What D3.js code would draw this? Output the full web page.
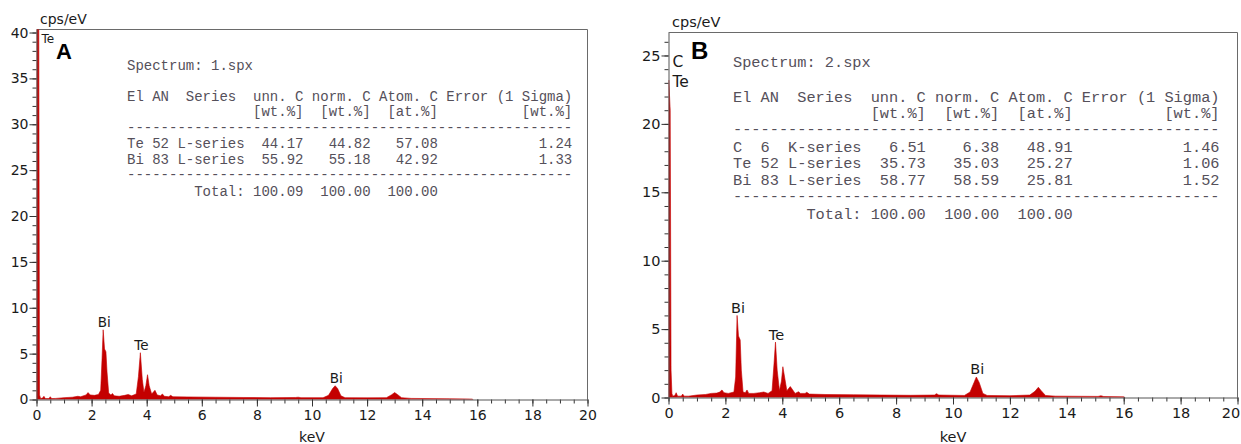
<!DOCTYPE html>
<html>
<head>
<meta charset="utf-8">
<script src="https://cdn.jsdelivr.net/npm/d3@7"></script>
<style>
  body { margin: 0; background: #fff; }
  svg { display: block; }
</style>
</head>
<body>
<svg id="chart" width="1241" height="444"></svg>
<script>
// ---- spectrum 1.spx (panel A) ----
const keVA = [0.00, 0.01, 0.08, 0.11, 0.15, 0.22, 0.27, 0.32, 0.45, 0.50, 0.55, 0.70, 1.00, 1.30, 1.50, 1.60, 1.80, 1.87, 1.95,
  2.10, 2.25, 2.33, 2.38, 2.42, 2.47, 2.52, 2.56, 2.62, 2.70, 2.76, 2.82, 3.00, 3.20, 3.33, 3.45, 3.62, 3.70, 3.77, 3.84,
  3.90, 3.97, 4.03, 4.09, 4.18, 4.30, 4.38, 4.50, 4.57, 4.64, 4.80, 4.87, 4.95, 5.50, 6.50, 7.50, 8.50, 9.40, 9.50, 9.60,
  10.40, 10.60, 10.75, 10.84, 10.93, 11.05, 11.20, 12.00, 12.70, 12.88, 13.00, 13.10, 13.25, 13.60, 15.00, 15.80, 15.85];
const cpsA = [0, 45, 45, 0.5, 0.1, 0.15, 0.35, 0.1, 0.1, 0.3, 0.1, 0.12, 0.2, 0.25, 0.35, 0.3, 0.5, 0.75, 0.5,
  0.45, 0.55, 1.0, 4.5, 7.6, 5.5, 5.2, 3.0, 0.7, 0.5, 0.65, 0.4, 0.35, 0.45, 0.55, 0.4, 0.6, 2.5, 5.1, 2.2,
  0.8, 1.5, 2.7, 1.5, 0.6, 1.0, 0.5, 0.4, 0.6, 0.35, 0.3, 0.45, 0.3, 0.28, 0.25, 0.22, 0.2, 0.22, 0.25, 0.2,
  0.2, 0.45, 1.2, 1.5, 1.2, 0.4, 0.2, 0.18, 0.2, 0.5, 0.75, 0.55, 0.2, 0.12, 0.08, 0.05, 0];
const peakElA = ["Bi", "Te", "Bi"];
const peakKeVA = [2.42, 3.77, 10.84];
const peakCpsA = [7.6, 5.1, 1.5];
const tableA = [
  "Spectrum: 1.spx",
  "El AN  Series  unn. C norm. C Atom. C Error (1 Sigma)",
  "               [wt.%]  [wt.%]  [at.%]          [wt.%]",
  "-----------------------------------------------------",
  "Te 52 L-series  44.17   44.82   57.08            1.24",
  "Bi 83 L-series  55.92   55.18   42.92            1.33",
  "-----------------------------------------------------",
  "        Total: 100.09  100.00  100.00"
];

// ---- spectrum 2.spx (panel B) ----
const keVB = [0.00, 0.01, 0.06, 0.09, 0.12, 0.15, 0.22, 0.27, 0.32, 0.45, 0.50, 0.55, 0.70, 1.00, 1.30, 1.50, 1.70, 1.80, 1.88,
  1.95, 2.10, 2.30, 2.36, 2.41, 2.46, 2.52, 2.56, 2.62, 2.70, 2.76, 2.82, 3.00, 3.20, 3.35, 3.50, 3.64, 3.71, 3.76, 3.82,
  3.90, 3.97, 4.02, 4.08, 4.16, 4.28, 4.35, 4.45, 4.57, 4.64, 4.80, 4.86, 4.95, 5.50, 6.50, 7.50, 8.50, 9.35, 9.42, 9.50,
  10.40, 10.60, 10.74, 10.82, 10.92, 11.05, 11.20, 12.00, 12.70, 12.88, 13.00, 13.10, 13.25, 13.60, 15.10, 15.20, 15.30,
  16.00, 16.05];
const cpsB = [0, 23.2, 21, 2, 0.3, 0.1, 0.15, 0.35, 0.1, 0.1, 0.25, 0.1, 0.1, 0.18, 0.22, 0.3, 0.32, 0.4, 0.55,
  0.35, 0.3, 0.4, 1.5, 6.0, 4.5, 4.2, 2.0, 0.4, 0.35, 0.55, 0.3, 0.3, 0.35, 0.4, 0.3, 0.5, 2.5, 4.05, 2.0,
  0.5, 1.2, 2.25, 1.5, 0.5, 0.8, 0.6, 0.3, 0.42, 0.3, 0.3, 0.38, 0.25, 0.22, 0.2, 0.18, 0.16, 0.18, 0.28, 0.18,
  0.15, 0.4, 1.1, 1.5, 1.1, 0.3, 0.15, 0.13, 0.18, 0.45, 0.75, 0.5, 0.15, 0.1, 0.08, 0.13, 0.07,
  0.05, 0];
const peakElB = ["Bi", "Te", "Bi"];
const peakKeVB = [2.41, 3.76, 10.82];
const peakCpsB = [6.0, 4.05, 1.5];
const tableB = [
  "Spectrum: 2.spx",
  "El AN  Series  unn. C norm. C Atom. C Error (1 Sigma)",
  "               [wt.%]  [wt.%]  [at.%]          [wt.%]",
  "-----------------------------------------------------",
  "C  6  K-series   6.51    6.38   48.91            1.46",
  "Te 52 L-series  35.73   35.03   25.27            1.06",
  "Bi 83 L-series  58.77   58.59   25.81            1.52",
  "-----------------------------------------------------",
  "        Total: 100.00  100.00  100.00"
];

const svg = d3.select("#chart");
const red = "#c40000";

const panels = [
  { id: "A", keV: keVA, cps: cpsA, el: peakElA, pk: peakKeVA, pc: peakCpsA, table: tableA,
    left: 36.5, right: 587.5, top: 29.5, bottom: 399.5, yMax: 40.33, yMaj: 5,
    font: 14, xPad: 4, peakFont: 13.5, tabFont: 14, tabX: 127,
    tabY: [70, 101, 116, 132, 148, 164, 179, 196],
    letter: { t: "A", x: 56, y: 59, size: 22 },
    lowEl: [{ t: "Te", dx: 5, y: 43, size: 12 }] },
  { id: "B", keV: keVB, cps: cpsB, el: peakElB, pk: peakKeVB, pc: peakCpsB, table: tableB,
    left: 668.5, right: 1237.5, top: 32.5, bottom: 397.5, yMax: 26.68, yMaj: 5,
    font: 14.5, xPad: 3, peakFont: 14.5, tabFont: 15.3, tabX: 733,
    tabY: [67, 102, 118, 134, 152, 168, 185, 201, 219],
    letter: { t: "B", x: 691, y: 59, size: 24 },
    lowEl: [{ t: "C", dx: 4, y: 67, size: 15.5 }, { t: "Te", dx: 4, y: 87, size: 15.5 }] }
];

panels.forEach(p => {
  const g = svg.append("g");
  const x = d3.scaleLinear().domain([0, 20]).range([p.left, p.right]);
  const y = d3.scaleLinear().domain([0, p.yMax]).range([p.bottom, p.top]);

  // frame (top + right)
  g.append("path")
    .attr("d", `M${p.left},${p.top}H${p.right}V${p.bottom}`)
    .attr("fill", "none").attr("stroke", "#6a6a6a").attr("stroke-width", 1);

  // spectrum
  g.append("clipPath").attr("id", "clip" + p.id)
    .append("rect").attr("x", p.left).attr("y", p.top)
    .attr("width", p.right - p.left).attr("height", p.bottom - p.top);

  const area = d3.area()
    .x(d => x(d[0]))
    .y0(y(0))
    .y1(d => y(d[1]));

  g.append("path")
    .datum(d3.zip(p.keV, p.cps))
    .attr("clip-path", `url(#clip${p.id})`)
    .attr("d", area)
    .attr("fill", red)
    .attr("stroke", red)
    .attr("stroke-width", 0.6);

  // minor ticks
  g.append("g").attr("transform", `translate(0,${p.bottom})`)
    .call(d3.axisBottom(x).tickValues(d3.range(0, 20.01, 0.5)).tickSize(4).tickFormat(""))
    .call(a => a.select(".domain").remove())
    .call(a => a.selectAll("line").attr("stroke", "#333"));
  g.append("g").attr("transform", `translate(${p.left},0)`)
    .call(d3.axisLeft(y).tickValues(d3.range(0, p.yMax, 1)).tickSize(4).tickFormat(""))
    .call(a => a.select(".domain").remove())
    .call(a => a.selectAll("line").attr("stroke", "#333"));

  // major ticks + labels
  const xa = g.append("g").attr("transform", `translate(0,${p.bottom})`)
    .call(d3.axisBottom(x).tickValues(d3.range(0, 21, 2)).tickSize(7).tickSizeOuter(0).tickPadding(p.xPad));
  const ya = g.append("g").attr("transform", `translate(${p.left},0)`)
    .call(d3.axisLeft(y).tickValues(d3.range(0, p.yMax, p.yMaj)).tickSize(7).tickSizeOuter(0).tickPadding(1));
  [xa, ya].forEach(a => {
    a.select(".domain").attr("stroke", "#555");
    a.selectAll("line").attr("stroke", "#333");
    a.selectAll("text")
      .attr("fill", "#1a1a1a")
      .style("font-family", "'DejaVu Sans', sans-serif")
      .style("font-size", p.font + "px");
  });
  // keep the last x label inside the page, as in the original export
  xa.selectAll(".tick text").filter(d => d === 20 && p.right > 1200).attr("dx", -7);

  // axis titles
  g.append("text").attr("x", p.left + 3.5).attr("y", p.top - 6)
    .style("font-family", "'DejaVu Sans', sans-serif").style("font-size", p.font + "px")
    .attr("fill", "#1a1a1a").text("cps/eV");
  g.append("text").attr("x", (p.left + p.right) / 2).attr("y", 442)
    .attr("text-anchor", "middle")
    .style("font-family", "'DejaVu Sans', sans-serif").style("font-size", p.font + "px")
    .attr("fill", "#1a1a1a").text("keV");

  // peak labels
  g.selectAll(".peak").data(d3.zip(p.el, p.pk, p.pc)).join("text")
    .attr("x", d => x(d[1]) + 1)
    .attr("y", d => y(d[2]) - 2.5)
    .attr("text-anchor", "middle")
    .style("font-family", "'DejaVu Sans', sans-serif").style("font-size", p.peakFont + "px")
    .attr("fill", "#1a1a1a")
    .text(d => d[0]);

  // low-energy element marks next to the zero peak
  p.lowEl.forEach(l => {
    g.append("text").attr("x", x(0) + l.dx).attr("y", l.y)
      .style("font-family", "'DejaVu Sans', sans-serif").style("font-size", l.size + "px")
      .attr("fill", "#1a1a1a").text(l.t);
  });

  // panel letter
  g.append("text").attr("x", p.letter.x).attr("y", p.letter.y)
    .style("font-family", "'Liberation Sans', Arial, sans-serif")
    .style("font-weight", "bold").style("font-size", p.letter.size + "px")
    .attr("fill", "#000").text(p.letter.t);

  // quantification table
  g.selectAll(".tab").data(p.table).join("text")
    .attr("x", p.tabX)
    .attr("y", (d, i) => p.tabY[i])
    .attr("xml:space", "preserve")
    .style("white-space", "pre")
    .style("font-family", "'Liberation Mono', 'Courier New', monospace")
    .style("font-size", p.tabFont + "px")
    .attr("fill", "#55505a")
    .text(d => d);
});
</script>
</body>
</html>
